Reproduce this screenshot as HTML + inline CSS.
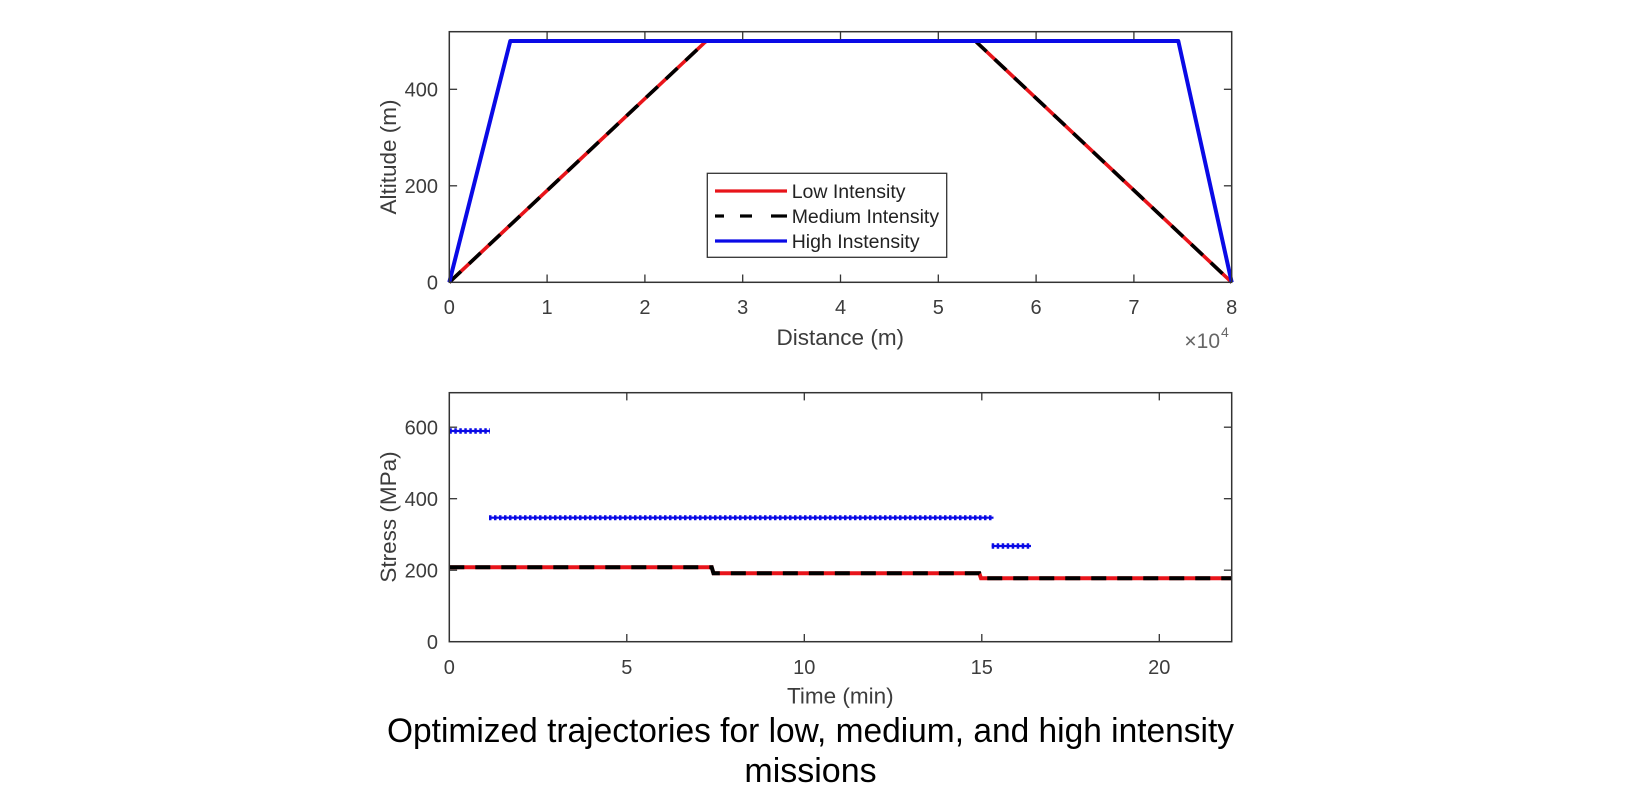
<!DOCTYPE html>
<html>
<head>
<meta charset="utf-8">
<style>
  html,body{margin:0;padding:0;background:#fff;}
  svg{display:block;}
  text{font-family:"Liberation Sans",Arial,sans-serif;}
</style>
</head>
<body>
<svg width="1640" height="800" viewBox="0 0 1640 800" xmlns="http://www.w3.org/2000/svg">
  <rect x="0" y="0" width="1640" height="800" fill="#fff"/>

  <!-- ================= TOP PLOT ================= -->
  <polyline points="449.3,282.3 706.3,41 975.3,41 1231.7,282.3" fill="none" stroke="#e8141a" stroke-width="3.6" stroke-linejoin="round"/>
  <polyline points="449.3,282.3 706.3,41 975.3,41 1231.7,282.3" fill="none" stroke="#000" stroke-width="3.6" stroke-dasharray="16 11" stroke-linejoin="round"/>
  <polyline points="449.3,282.3 510.3,41 1178.3,41 1231.7,282.3" fill="none" stroke="#0a0ae6" stroke-width="4" stroke-linejoin="round"/>

  <rect x="449.3" y="31.7" width="782.4" height="250.6" fill="none" stroke="#333" stroke-width="1.5"/>
  <g stroke="#333" stroke-width="1.3">
    <line x1="547.1" y1="282.3" x2="547.1" y2="274.5"/><line x1="547.1" y1="31.7" x2="547.1" y2="39.5"/>
    <line x1="644.9" y1="282.3" x2="644.9" y2="274.5"/><line x1="644.9" y1="31.7" x2="644.9" y2="39.5"/>
    <line x1="742.7" y1="282.3" x2="742.7" y2="274.5"/><line x1="742.7" y1="31.7" x2="742.7" y2="39.5"/>
    <line x1="840.5" y1="282.3" x2="840.5" y2="274.5"/><line x1="840.5" y1="31.7" x2="840.5" y2="39.5"/>
    <line x1="938.3" y1="282.3" x2="938.3" y2="274.5"/><line x1="938.3" y1="31.7" x2="938.3" y2="39.5"/>
    <line x1="1036.1" y1="282.3" x2="1036.1" y2="274.5"/><line x1="1036.1" y1="31.7" x2="1036.1" y2="39.5"/>
    <line x1="1133.9" y1="282.3" x2="1133.9" y2="274.5"/><line x1="1133.9" y1="31.7" x2="1133.9" y2="39.5"/>
    <line x1="449.3" y1="185.8" x2="457.1" y2="185.8"/><line x1="1231.7" y1="185.8" x2="1223.9" y2="185.8"/>
    <line x1="449.3" y1="89.3" x2="457.1" y2="89.3"/><line x1="1231.7" y1="89.3" x2="1223.9" y2="89.3"/>
  </g>
  <g font-size="20" fill="#3c3c3c" text-anchor="middle">
    <text x="449.3" y="314">0</text>
    <text x="547.1" y="314">1</text>
    <text x="644.9" y="314">2</text>
    <text x="742.7" y="314">3</text>
    <text x="840.5" y="314">4</text>
    <text x="938.3" y="314">5</text>
    <text x="1036.1" y="314">6</text>
    <text x="1133.9" y="314">7</text>
    <text x="1231.7" y="314">8</text>
  </g>
  <g font-size="20" fill="#3c3c3c" text-anchor="end">
    <text x="438" y="289.5">0</text>
    <text x="438" y="193">200</text>
    <text x="438" y="96.5">400</text>
  </g>
  <text x="1220" y="348" font-size="21" fill="#666" text-anchor="end">×10</text>
  <text x="1221" y="337" font-size="14" fill="#666">4</text>
  <text x="840.3" y="345" font-size="22.5" fill="#3c3c3c" text-anchor="middle">Distance (m)</text>
  <text transform="translate(388,157) rotate(-90)" x="0" y="8" font-size="22.5" fill="#3c3c3c" text-anchor="middle">Altitude (m)</text>

  <rect x="707.3" y="173.3" width="239.4" height="84" fill="#fff" stroke="#333" stroke-width="1.3"/>
  <line x1="715" y1="191" x2="787" y2="191" stroke="#e8141a" stroke-width="3.2"/>
  <g stroke="#000" stroke-width="3.2">
    <line x1="715" y1="216" x2="724" y2="216"/>
    <line x1="740" y1="216" x2="752" y2="216"/>
    <line x1="771" y1="216" x2="787" y2="216"/>
  </g>
  <line x1="715" y1="241" x2="787" y2="241" stroke="#0a0ae6" stroke-width="3.2"/>
  <g font-size="19.5" fill="#222">
    <text x="791.7" y="197.8">Low Intensity</text>
    <text x="791.7" y="222.8">Medium Intensity</text>
    <text x="791.7" y="247.8">High Instensity</text>
  </g>

  <!-- ================= BOTTOM PLOT ================= -->
  <polyline points="449.3,567.3 711.7,567.3 713.5,573.3 979.3,573.3 981,578.3 1231.7,578.3" fill="none" stroke="#e8141a" stroke-width="4"/>
  <polyline points="449.3,567.3 711.7,567.3 713.5,573.3 979.3,573.3 981,578.3 1231.7,578.3" fill="none" stroke="#000" stroke-width="4" stroke-dasharray="15 11"/>

  <g stroke="#0a0ae6" fill="none">
    <line x1="449.3" y1="431" x2="490" y2="431" stroke-width="2.2"/>
    <line x1="449.3" y1="431" x2="490" y2="431" stroke-width="5.5" stroke-dasharray="2.5 2.5"/>
    <line x1="489" y1="517.7" x2="993.5" y2="517.7" stroke-width="2.2"/>
    <line x1="489" y1="517.7" x2="993.5" y2="517.7" stroke-width="5" stroke-dasharray="2.5 2.5"/>
    <line x1="991.7" y1="546" x2="1031" y2="546" stroke-width="2.2"/>
    <line x1="991.7" y1="546" x2="1031" y2="546" stroke-width="5.5" stroke-dasharray="2.5 2.5"/>
  </g>

  <rect x="449.3" y="392.7" width="782.4" height="249" fill="none" stroke="#333" stroke-width="1.5"/>
  <g stroke="#333" stroke-width="1.3">
    <line x1="626.8" y1="641.7" x2="626.8" y2="634"/><line x1="626.8" y1="392.7" x2="626.8" y2="400.4"/>
    <line x1="804.3" y1="641.7" x2="804.3" y2="634"/><line x1="804.3" y1="392.7" x2="804.3" y2="400.4"/>
    <line x1="981.8" y1="641.7" x2="981.8" y2="634"/><line x1="981.8" y1="392.7" x2="981.8" y2="400.4"/>
    <line x1="1159.3" y1="641.7" x2="1159.3" y2="634"/><line x1="1159.3" y1="392.7" x2="1159.3" y2="400.4"/>
    <line x1="449.3" y1="570.2" x2="457.1" y2="570.2"/><line x1="1231.7" y1="570.2" x2="1223.9" y2="570.2"/>
    <line x1="449.3" y1="498.7" x2="457.1" y2="498.7"/><line x1="1231.7" y1="498.7" x2="1223.9" y2="498.7"/>
    <line x1="449.3" y1="427.2" x2="457.1" y2="427.2"/><line x1="1231.7" y1="427.2" x2="1223.9" y2="427.2"/>
  </g>
  <g font-size="20" fill="#3c3c3c" text-anchor="middle">
    <text x="449.3" y="674">0</text>
    <text x="626.8" y="674">5</text>
    <text x="804.3" y="674">10</text>
    <text x="981.8" y="674">15</text>
    <text x="1159.3" y="674">20</text>
  </g>
  <g font-size="20" fill="#3c3c3c" text-anchor="end">
    <text x="438" y="649">0</text>
    <text x="438" y="577.4">200</text>
    <text x="438" y="505.9">400</text>
    <text x="438" y="434.4">600</text>
  </g>
  <text x="840.3" y="703.5" font-size="22.5" fill="#3c3c3c" text-anchor="middle">Time (min)</text>
  <text transform="translate(388,517) rotate(-90)" x="0" y="8" font-size="22.5" fill="#3c3c3c" text-anchor="middle">Stress (MPa)</text>

  <text x="810.5" y="742" font-size="34" fill="#000" text-anchor="middle" textLength="847" lengthAdjust="spacingAndGlyphs">Optimized trajectories for low, medium, and high intensity</text>
  <text x="810.5" y="782" font-size="34" fill="#000" text-anchor="middle">missions</text>
</svg>
</body>
</html>
